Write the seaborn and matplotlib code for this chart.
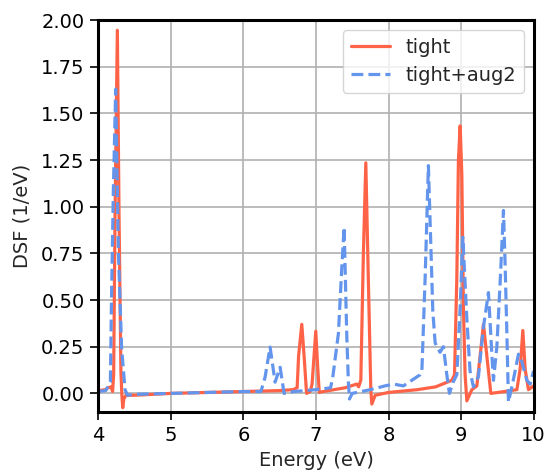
import matplotlib
matplotlib.use("Agg")
import matplotlib.pyplot as plt
import seaborn as sns
import pandas as pd

# tight basis
tight_energy = [4.00, 4.10, 4.132, 4.174, 4.195, 4.21, 4.229, 4.261, 4.284, 4.31, 4.322, 4.335,
                4.35, 4.38, 4.50, 5.00, 6.00, 6.50, 6.684, 6.74, 6.76, 6.804, 6.836, 6.87,
                6.92, 6.946, 6.997, 7.022, 7.045, 7.10, 7.40, 7.563, 7.588, 7.618, 7.654,
                7.687, 7.723, 7.756, 7.770, 7.816, 8.00, 8.40, 8.65, 8.873, 8.91, 8.942,
                8.964, 8.988, 9.011, 9.033, 9.056, 9.08, 9.149, 9.218, 9.263, 9.309, 9.356,
                9.411, 9.60, 9.77, 9.815, 9.852, 9.884, 9.930, 10.00]
tight_dsf = [0.015, 0.02, 0.03, 0.035, 0.01, 0.10, 0.96, 1.945, 0.96, 0.12, 0.0, -0.077,
             -0.03, -0.01, -0.01, 0.0, 0.01, 0.015, 0.02, 0.03, 0.20, 0.37, 0.20, 0.0,
             0.01, 0.05, 0.333, 0.15, 0.005, 0.01, 0.03, 0.05, 0.035, 0.07, 0.76,
             1.235, 0.59, 0.02, -0.057, -0.01, 0.005, 0.02, 0.035, 0.07, 0.10, 0.62,
             1.25, 1.433, 1.17, 0.46, 0.10, -0.04, 0.02, 0.04, 0.20, 0.37, 0.20,
             0.0, 0.01, 0.02, 0.13, 0.337, 0.13, 0.02, 0.04]

# tight+aug2 basis
aug_energy = [4.00, 4.10, 4.165, 4.18, 4.205, 4.238, 4.275, 4.32, 4.367, 4.40, 4.50, 5.00,
              6.00, 6.24, 6.252, 6.298, 6.367, 6.436, 6.505, 6.56, 6.70, 7.00, 7.20, 7.229,
              7.309, 7.356, 7.388, 7.425, 7.447, 7.461, 7.50, 7.75, 7.95, 8.07, 8.205, 8.436,
              8.46, 8.505, 8.55, 8.583, 8.611, 8.643, 8.71, 8.757, 8.804, 8.84, 8.89, 8.942,
              8.988, 9.025, 9.08, 9.124, 9.171, 9.24, 9.309, 9.378, 9.425, 9.447, 9.494,
              9.54, 9.585, 9.608, 9.632, 9.654, 9.72, 9.792, 9.839, 9.907, 9.953, 10.00]
aug_dsf = [0.01, 0.015, 0.06, 0.50, 1.07, 1.63, 0.76, 0.24, 0.02, -0.01, -0.005, 0.0,
           0.01, 0.01, 0.025, 0.087, 0.248, 0.06, 0.14, 0.0, 0.01, 0.02, 0.03, 0.08,
           0.32, 0.675, 0.89, 0.30, 0.06, -0.03, 0.0, 0.02, 0.04, 0.05, 0.04, 0.10,
           0.12, 0.62, 1.22, 0.80, 0.44, 0.27, 0.22, 0.25, 0.10, 0.0, 0.06, 0.10,
           0.46, 0.836, 0.40, 0.12, 0.035, 0.09, 0.355, 0.54, 0.21, 0.07, 0.25,
           0.60, 0.98, 0.69, 0.32, -0.046, 0.07, 0.21, 0.17, 0.07, 0.05, 0.12]

x_ticks = [4, 5, 6, 7, 8, 9, 10]
y_ticks = [0.00, 0.25, 0.50, 0.75, 1.00, 1.25, 1.50, 1.75, 2.00]

sns.set_style("ticks", {"axes.grid": True, "grid.color": "#b0b0b0",
                        "axes.edgecolor": "black", "xtick.color": "black",
                        "ytick.color": "black"})
plt.rcParams["font.family"] = ["DejaVu Sans"]

fig = plt.figure(figsize=(5.45, 4.72), dpi=100)
ax = fig.add_axes([0.1806, 0.127, 0.7984, 0.8306])

df_t = pd.DataFrame({"Energy": tight_energy, "DSF": tight_dsf})
df_a = pd.DataFrame({"Energy": aug_energy, "DSF": aug_dsf})

sns.lineplot(data=df_t, x="Energy", y="DSF", ax=ax, color="tomato", lw=2.3,
             label="tight", sort=False)
sns.lineplot(data=df_a, x="Energy", y="DSF", ax=ax, color="cornflowerblue", lw=2.3,
             linestyle="--", label="tight+aug2", sort=False)

ax.set_xlim(4, 10)
ax.set_ylim(-0.1, 2.0)
ax.set_xticks(x_ticks)
ax.set_yticks(y_ticks)
ax.set_yticklabels([f"{v:.2f}" for v in y_ticks])
ax.tick_params(labelsize=14, length=6, width=1.2, direction="out", pad=4)
ax.set_xlabel("Energy (eV)", fontsize=14, labelpad=4)
ax.set_ylabel("DSF (1/eV)", fontsize=14, labelpad=7)
for s in ax.spines.values():
    s.set_linewidth(2.2)
    s.set_color("black")
ax.grid(True, color="#b0b0b0", lw=1.2)
ax.legend(loc="upper right", fontsize=14, frameon=True)

fig.savefig("out.png", dpi=100)
